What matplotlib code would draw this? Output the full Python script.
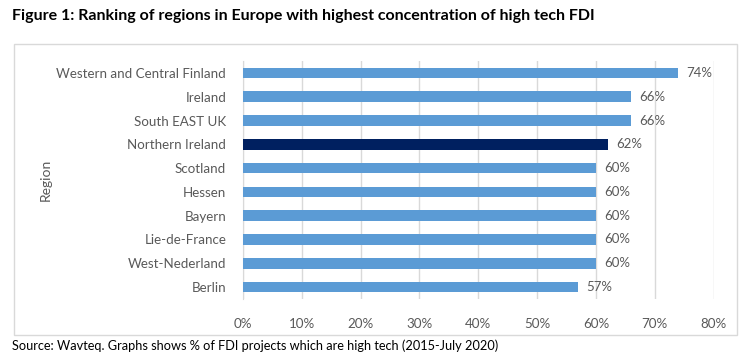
import matplotlib.pyplot as plt
from matplotlib.patches import Rectangle
from matplotlib.ticker import PercentFormatter

regions = ["Western and Central Finland", "Ireland", "South EAST UK", "Northern Ireland",
           "Scotland", "Hessen", "Bayern", "Lie-de-France", "West-Nederland", "Berlin"]
values = [74, 66, 66, 62, 60, 60, 60, 60, 60, 57]
highlight = "Northern Ireland"

plt.rcParams['font.family'] = ['Lato', 'DejaVu Sans']

fig = plt.figure(figsize=(7.52, 3.55), dpi=100)
ax = fig.add_axes([0.323, 0.158, 0.626, 0.670])

colors = ["#002060" if r == highlight else "#5B9BD5" for r in regions]
pos = list(range(len(regions)))[::-1]
bars = ax.barh(pos, values, height=0.45, color=colors, zorder=3)

for rect, v in zip(bars, values):
    ax.annotate(f"{v}%", xy=(rect.get_width(), rect.get_y() + rect.get_height() / 2),
                xytext=(6, 0), textcoords="offset points",
                ha="left", va="center", fontsize=9.5, color="#595959")

ax.set_xlim(0, 80)
ax.set_ylim(-0.5, len(regions) - 0.5)
ax.set_xticks(range(0, 81, 10))
ax.xaxis.set_major_formatter(PercentFormatter(decimals=0))
ax.set_yticks(pos)
ax.set_yticklabels(regions)
ax.tick_params(axis="both", length=0, labelsize=9.6, labelcolor="#595959")
ax.tick_params(axis="y", pad=12)
ax.tick_params(axis="x", pad=14)
ax.grid(axis="x", color="#D9D9D9", linewidth=1, zorder=0)
for s in ["top", "right", "bottom"]:
    ax.spines[s].set_visible(False)
ax.spines["left"].set_color("#D9D9D9")
ax.set_ylabel("Region", fontsize=10, color="#595959")
ax.yaxis.set_label_coords(-0.405, 0.5)

fig.patches.append(Rectangle((0.0186, 0.056), 0.962, 0.82, transform=fig.transFigure,
                             fill=False, edgecolor="#D9D9D9", linewidth=1))

fig.text(0.016, 0.955, "Figure 1: Ranking of regions in Europe with highest concentration of high tech FDI",
         fontsize=11.5, fontweight="bold", color="black", va="center")
fig.text(0.016, 0.025, "Source: Wavteq. Graphs shows % of FDI projects which are high tech (2015-July 2020)",
         fontsize=9.2, color="black", va="center")

fig.savefig("out.png", dpi=100)
